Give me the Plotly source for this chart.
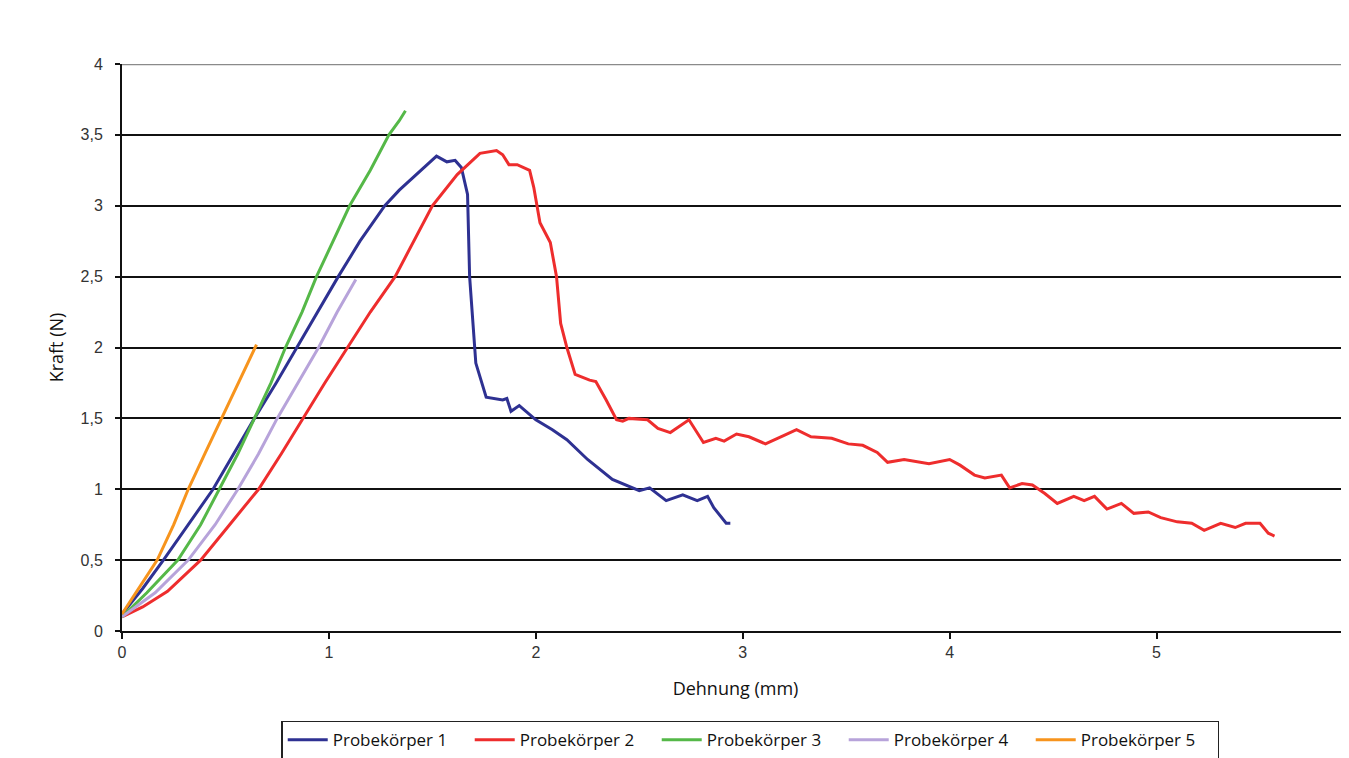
import plotly.graph_objects as go

# ---- data ----
names = ["Probekörper 1", "Probekörper 2", "Probekörper 3", "Probekörper 4", "Probekörper 5"]
colors = ["#2E3192", "#EE2D2D", "#55B848", "#B7A3DA", "#F7941D"]

x1 = [0, 0.1, 0.2, 0.32, 0.44, 0.54, 0.64, 0.745, 0.845, 0.945, 1.045, 1.15, 1.27, 1.34, 1.43,
      1.52, 1.57, 1.61, 1.64, 1.67, 1.68, 1.70, 1.71, 1.76, 1.84, 1.86, 1.88, 1.92, 2.0, 2.08,
      2.15, 2.25, 2.37, 2.50, 2.55, 2.63, 2.71, 2.78, 2.83, 2.86, 2.92, 2.94]
y1 = [0.12, 0.30, 0.5, 0.75, 1.0, 1.25, 1.5, 1.75, 2.0, 2.25, 2.5, 2.75, 3.0, 3.11, 3.23,
      3.35, 3.31, 3.32, 3.27, 3.08, 2.50, 2.12, 1.89, 1.65, 1.63, 1.64, 1.55, 1.59, 1.49, 1.42,
      1.35, 1.21, 1.07, 0.99, 1.01, 0.92, 0.96, 0.92, 0.95, 0.87, 0.76, 0.76]

x2 = [0, 0.1, 0.22, 0.38, 0.52, 0.66, 0.77, 0.875, 0.98, 1.09, 1.2, 1.32, 1.41, 1.50, 1.62,
      1.73, 1.81, 1.84, 1.87, 1.91, 1.97, 1.99, 2.02, 2.07, 2.10, 2.12, 2.15, 2.19, 2.26, 2.29,
      2.34, 2.39, 2.42, 2.45, 2.54, 2.59, 2.65, 2.74, 2.81, 2.87, 2.91, 2.97, 3.03, 3.11, 3.20,
      3.26, 3.33, 3.43, 3.51, 3.58, 3.65, 3.70, 3.78, 3.90, 4.00, 4.05, 4.12, 4.17, 4.25, 4.29,
      4.35, 4.40, 4.46, 4.52, 4.60, 4.65, 4.70, 4.76, 4.83, 4.89, 4.96, 5.02, 5.10, 5.17, 5.23,
      5.31, 5.38, 5.43, 5.50, 5.54, 5.57]
y2 = [0.1, 0.17, 0.28, 0.5, 0.75, 1.0, 1.25, 1.5, 1.75, 2.0, 2.25, 2.5, 2.75, 3.0, 3.22,
      3.37, 3.39, 3.36, 3.29, 3.29, 3.25, 3.13, 2.88, 2.74, 2.5, 2.17, 2.0, 1.81, 1.77, 1.76,
      1.63, 1.49, 1.48, 1.50, 1.49, 1.43, 1.40, 1.49, 1.33, 1.36, 1.34, 1.39, 1.37, 1.32, 1.38,
      1.42, 1.37, 1.36, 1.32, 1.31, 1.26, 1.19, 1.21, 1.18, 1.21, 1.17, 1.10, 1.08, 1.10, 1.01,
      1.04, 1.03, 0.97, 0.90, 0.95, 0.92, 0.95, 0.86, 0.90, 0.83, 0.84, 0.80, 0.77, 0.76, 0.71,
      0.76, 0.73, 0.76, 0.76, 0.69, 0.67]

x3 = [0, 0.12, 0.27, 0.38, 0.47, 0.56, 0.64, 0.72, 0.79, 0.87, 0.94, 1.02, 1.10, 1.20, 1.29, 1.34, 1.37]
y3 = [0.1, 0.27, 0.5, 0.75, 1.0, 1.25, 1.5, 1.75, 2.0, 2.25, 2.5, 2.75, 3.0, 3.25, 3.5, 3.6, 3.67]

x4 = [0, 0.16, 0.32, 0.45, 0.56, 0.66, 0.75, 0.85, 0.95, 1.04, 1.13]
y4 = [0.1, 0.27, 0.5, 0.75, 1.0, 1.25, 1.5, 1.75, 2.0, 2.25, 2.48]

x5 = [0, 0.08, 0.17, 0.25, 0.32, 0.40, 0.48, 0.57, 0.65]
y5 = [0.12, 0.3, 0.5, 0.75, 1.0, 1.25, 1.5, 1.77, 2.02]

xs = [x1, x2, x3, x4, x5]
ys = [y1, y2, y3, y4, y5]

fig = go.Figure()
for n, c, x, y in zip(names, colors, xs, ys):
    fig.add_trace(go.Scatter(x=x, y=y, mode="lines", name=n,
                             line=dict(color=c, width=3)))

font_main = "Liberation Sans, Arial, sans-serif"
font_label = "Open Sans, sans-serif"

fig.update_layout(
    width=1349, height=758,
    margin=dict(l=114, r=8, t=56, b=135, autoexpand=False),
    paper_bgcolor="white", plot_bgcolor="white",
    separators=",.",
    showlegend=True,
    legend=dict(
        orientation="h", x=0.512, xanchor="center", y=-0.158, yanchor="top",
        bordercolor="#222", borderwidth=1.5, bgcolor="white",
        font=dict(family=font_label, size=17, color="#111"),
        entrywidth=132, entrywidthmode="pixels",
        itemwidth=40,
    ),
    xaxis=dict(
        range=[0, 5.93], tickmode="linear", tick0=0, dtick=1,
        showgrid=False, zeroline=False, automargin=False,
        showline=True, linecolor="#111", linewidth=2,
        ticks="outside", ticklen=6, tickwidth=1.5, tickcolor="#111",
        tickfont=dict(family=font_main, size=16, color="#333"),
        title=dict(text="Dehnung (mm)", font=dict(family=font_label, size=18, color="#111"), standoff=22),
    ),
    yaxis=dict(
        range=[0, 4], tickmode="linear", tick0=0, dtick=0.5,
        showgrid=True, gridcolor="#111", gridwidth=2,
        zeroline=False, automargin=False,
        showline=True, linecolor="#111", linewidth=2,
        ticks="outside", ticklen=5, tickwidth=1.5, tickcolor="#111",
        ticklabelstandoff=9,
        tickfont=dict(family=font_main, size=16, color="#333"),
        title=dict(text="Kraft (N)", font=dict(family=font_label, size=18, color="#111"), standoff=12),
    ),
)

# top grid line appears grey in the reference
fig.add_shape(type="line", xref="paper", yref="y", x0=0, x1=1, y0=4, y1=4,
              line=dict(color="#8a8a8a", width=2.5), layer="above")

fig.write_html("out.html")
